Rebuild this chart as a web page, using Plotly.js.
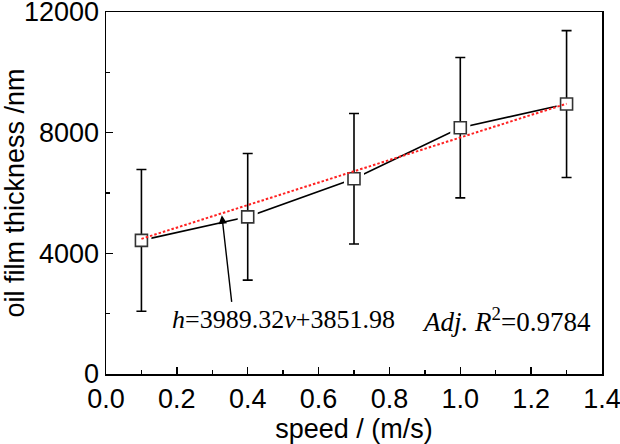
<!DOCTYPE html>
<html>
<head>
<meta charset="utf-8">
<script src="https://cdn.plot.ly/plotly-3.0.1.min.js"></script>
<style>html,body{margin:0;padding:0;background:#fff;}#chart{width:620px;height:444px;}</style>
</head>
<body>
<div id="chart"></div>
<script>
// Data
const speed = [0.1, 0.4, 0.7, 1.0, 1.3];
const thickness = [4430, 5210, 6472, 8165, 8948];
const errorBars = [2350, 2098, 2162, 2328, 2433];
// Drawn linear fit (red dotted), endpoints
const fitSpeed = [0.1, 1.3];
const fitThickness = [4480, 8960];
const xTickVals = [0, 0.2, 0.4, 0.6, 0.8, 1.0, 1.2, 1.4];
const yTickVals = [0, 4000, 8000, 12000];
const eqText = '<i>h</i>=3989.32<i>v</i>+3851.98';
const r2Text = '<i>Adj. R</i><sup>2</sup>=0.9784';

const sansFont = 'Liberation Sans, Arial, sans-serif';
const serifFont = 'Liberation Serif, Times New Roman, serif';

const traces = [
  { // connecting line
    x: speed, y: thickness, type: 'scatter', mode: 'lines',
    line: {color: '#000', width: 1.6}, hoverinfo: 'skip', showlegend: false
  },
  { // white halo giving the gaps around markers
    x: speed, y: thickness, type: 'scatter', mode: 'markers',
    marker: {symbol: 'square', size: 20, color: '#fff', line: {width: 0}},
    hoverinfo: 'skip', showlegend: false
  },
  { // data markers with error bars
    x: speed, y: thickness, type: 'scatter', mode: 'markers',
    marker: {symbol: 'square', size: 12, color: '#fff', line: {color: '#333', width: 1.6}},
    error_y: {type: 'data', array: errorBars, visible: true, color: '#000', thickness: 1.6, width: 5},
    showlegend: false
  },
  { // fit line
    x: fitSpeed, y: fitThickness, type: 'scatter', mode: 'lines',
    line: {color: '#ff2020', width: 2, dash: '2.5px,2px'}, hoverinfo: 'skip', showlegend: false
  }
];

const layout = {
  width: 620, height: 444,
  margin: {l: 106, r: 18, t: 12, b: 70, pad: 0},
  paper_bgcolor: '#fff', plot_bgcolor: '#fff',
  font: {family: sansFont, color: '#000'},
  showlegend: false,
  xaxis: {
    range: [0, 1.4], tickvals: xTickVals, tickformat: '.1f',
    ticklabeloverflow: 'allow',
    ticks: 'inside', ticklen: 7, tickwidth: 1.5, tickcolor: '#000',
    minor: {dtick: 0.1, tick0: 0, ticks: 'inside', ticklen: 4, tickwidth: 1.5, tickcolor: '#000', showgrid: false},
    showline: true, linecolor: '#000', linewidth: 1.5, mirror: true,
    showgrid: false, zeroline: false,
    tickfont: {family: sansFont, size: 27, color: '#000'},
    title: {text: 'speed / (m/s)', font: {family: sansFont, size: 27, color: '#000'}, standoff: 2}
  },
  yaxis: {
    range: [0, 12000], tickvals: yTickVals, tickformat: 'd',
    ticklabeloverflow: 'allow',
    ticks: 'inside', ticklen: 7, tickwidth: 1.5, tickcolor: '#000',
    minor: {dtick: 2000, tick0: 0, ticks: 'inside', ticklen: 4, tickwidth: 1.5, tickcolor: '#000', showgrid: false},
    showline: true, linecolor: '#000', linewidth: 1.5, mirror: true,
    showgrid: false, zeroline: false,
    tickfont: {family: sansFont, size: 27, color: '#000'},
    title: {text: 'oil film thickness /nm', font: {family: sansFont, size: 27, color: '#000'}, standoff: 0}
  },
  annotations: [
    {
      x: 0.327, y: 5260, xref: 'x', yref: 'y', text: '',
      showarrow: true, arrowhead: 2, arrowsize: 1.2, arrowwidth: 1.4, arrowcolor: '#000',
      ax: 10, ay: 88
    },
    {
      x: 0.181, y: 1800, xref: 'x', yref: 'y', text: eqText,
      showarrow: false, xanchor: 'left', yanchor: 'middle',
      font: {family: serifFont, size: 26, color: '#000'}
    },
    {
      x: 0.887, y: 1800, xref: 'x', yref: 'y', text: r2Text,
      showarrow: false, xanchor: 'left', yanchor: 'middle',
      font: {family: serifFont, size: 27, color: '#000'}
    }
  ]
};

Plotly.newPlot('chart', traces, layout, {staticPlot: true, displayModeBar: false});
</script>
</body>
</html>
